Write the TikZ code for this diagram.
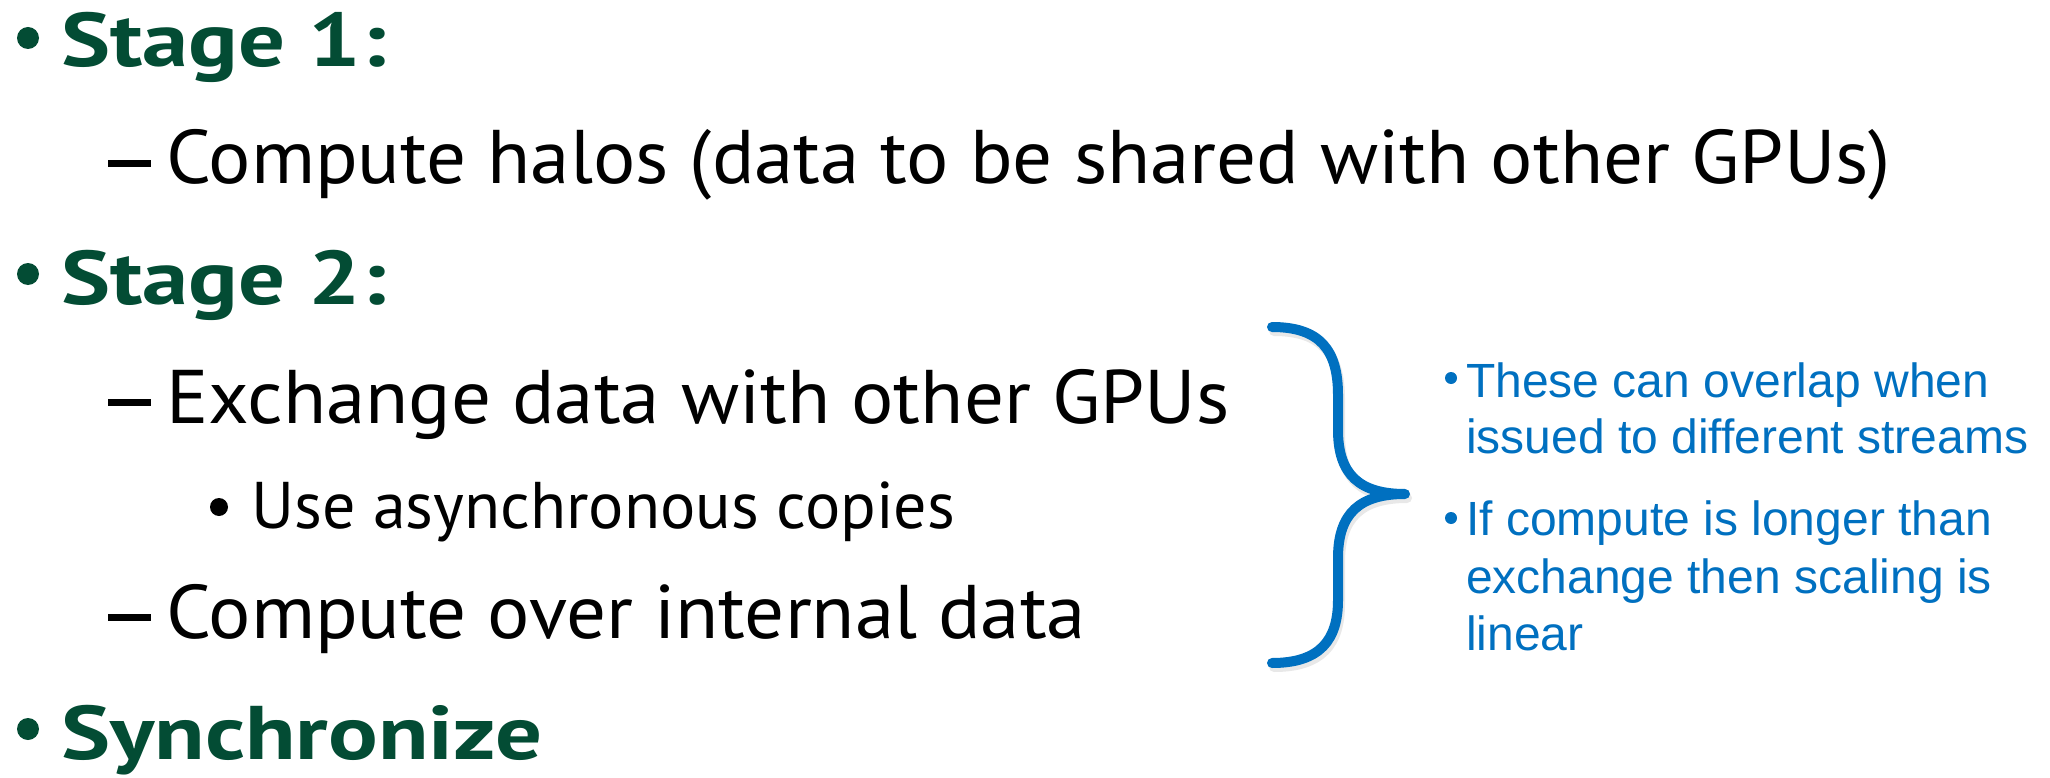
\documentclass[tikz,border=0pt]{standalone}
\usepackage{fontspec}
\setmainfont{PT Sans}
\newfontfamily\stagefont{PT Sans}[FakeStretch=1.22]
\newfontfamily\itemfont{PT Sans}[FakeStretch=1.04]
\newfontfamily\notefont{Liberation Sans}
\definecolor{stagegreen}{HTML}{034C34}
\definecolor{noteblue}{HTML}{0070C0}
\begin{document}
\begin{tikzpicture}[x=1pt,y=-1pt,
  stage/.style={anchor=base west, inner sep=0pt, text=stagegreen,
    font=\stagefont\fontsize{76}{90}\selectfont\bfseries},
  item/.style={anchor=base west, inner sep=0pt,
    font=\itemfont\fontsize{76}{90}\selectfont},
  subitem/.style={anchor=base west, inner sep=0pt, font=\fontsize{66}{80}\selectfont},
  note/.style={anchor=base west, inner sep=0pt, text=noteblue,
    font=\notefont\fontsize{48}{57}\selectfont},
  dashmark/.style={fill=black},
  ]
\useasboundingbox[fill=white] (0,0) rectangle (2050,778);

% top-level stages
\fill[stagegreen] (28,38) circle (11);
\node[stage] (s1) at (61,67) {Stage 1:};
\fill[stagegreen] (28,274) circle (11);
\node[stage] (s2) at (61,304) {Stage 2:};
\fill[stagegreen] (28,729) circle (11);
\node[stage] (s3) at (61,759) {Synchronize};

% second-level items
\fill[dashmark] (108,160) rectangle (151,167);
\node[item] (halo) at (166,184) {Compute halos (data to be shared with other GPUs)};
\fill[dashmark] (108,399) rectangle (151,406);
\node[item] (exch) at (166,423) {Exchange data with other GPUs};
\fill (219,507) circle (9);
\node[subitem] (async) at (251,528) {Use asynchronous copies};
\fill[dashmark] (108,614) rectangle (151,621);
\node[item] (inner) at (166,638) {Compute over internal data};

% curly brace grouping the two concurrent tasks
\draw[line width=10pt, gray, opacity=0.18, line cap=round, line join=round]
  (1274,331) .. controls (1322,331) and (1340,354) .. (1340,399) -- (1340,434)
  .. controls (1340,479) and (1362,498) .. (1407,498)
  .. controls (1362,498) and (1340,517) .. (1340,562) -- (1340,604)
  .. controls (1340,644) and (1322,667) .. (1274,667);
\draw[line width=10pt, noteblue, line cap=round, line join=round]
  (1272,327) .. controls (1320,327) and (1338,350) .. (1338,395) -- (1338,430)
  .. controls (1338,475) and (1360,494) .. (1405,494)
  .. controls (1360,494) and (1338,513) .. (1338,558) -- (1338,600)
  .. controls (1338,640) and (1320,663) .. (1272,663);

% notes on the right
\fill[noteblue] (1451,378) circle (6);
\node[note] (n1a) at (1466,397) {These can overlap when};
\node[note] (n1b) at (1466,453) {issued to different streams};
\fill[noteblue] (1451,518) circle (6);
\node[note] (n2a) at (1466,535) {If compute is longer than};
\node[note] (n2b) at (1466,593) {exchange then scaling is};
\node[note] (n2c) at (1466,650) {linear};
\end{tikzpicture}
\end{document}
